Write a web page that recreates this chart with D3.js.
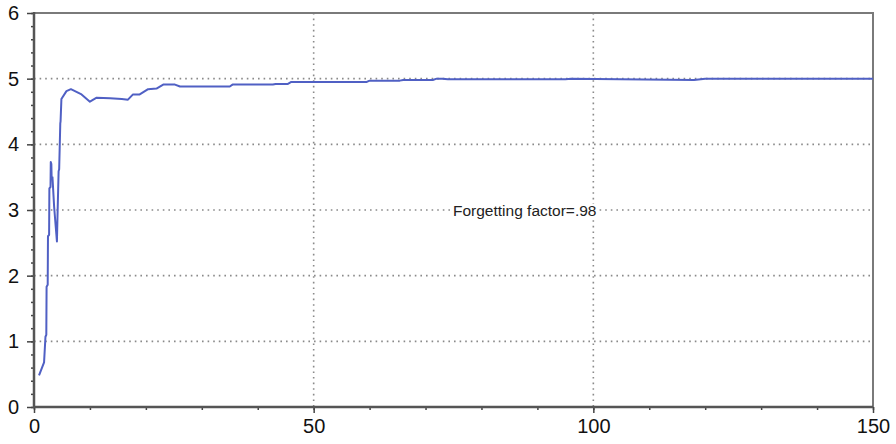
<!DOCTYPE html>
<html><head><meta charset="utf-8">
<script src="https://cdn.jsdelivr.net/npm/d3@7"></script>
<style>html,body{margin:0;padding:0;background:#fff;}</style>
</head><body>
<svg id="c" width="896" height="444"></svg>
<script>
const iterations = [0.9,1.8,2.05,2.2,2.25,2.45,2.5,2.7,2.75,2.95,3.0,3.1,3.15,3.3,3.6,3.9,4.1,4.2,4.4,4.5,4.7,4.75,4.9,5.8,6.6,8.5,10,11.2,13.6,15.7,16.8,17.7,18.9,20.4,21.9,23.1,25.2,26.1,35,35.5,42.7,43.2,45.4,46,59.5,60,65.4,66,71.3,72,73,74,95,96,118,120,150];
const estimates  = [0.48,0.68,1.07,1.1,1.83,1.86,2.6,2.62,3.33,3.35,3.73,3.7,3.5,3.5,3.05,2.73,2.52,2.9,3.59,3.62,4.32,4.35,4.69,4.81,4.84,4.76,4.65,4.71,4.70,4.69,4.68,4.76,4.76,4.84,4.85,4.91,4.91,4.88,4.88,4.91,4.91,4.92,4.92,4.95,4.95,4.97,4.97,4.98,4.98,5.0,5.0,4.99,4.99,5.0,4.98,5.0,5.0];
const xTicks = [0,50,100,150];
const yTicks = [0,1,2,3,4,5,6];
const annotation = "Forgetting factor=.98";

const svg = d3.select("#c");
const L=34, R=873, T=13, B=407;
const x = d3.scaleLinear().domain([0,150]).range([L,R]);
const y = d3.scaleLinear().domain([0,6]).range([B,T]);

// grid
const grid = svg.append("g").attr("stroke","#8a8a8a").attr("stroke-width",1.6).attr("stroke-dasharray","1.6,4");
grid.selectAll("line.h").data(yTicks.filter(d=>d>0&&d<6)).join("line")
  .attr("x1",L).attr("x2",R).attr("y1",d=>y(d)).attr("y2",d=>y(d));
grid.selectAll("line.v").data(xTicks.filter(d=>d>0&&d<150)).join("line")
  .attr("y1",T).attr("y2",B).attr("x1",d=>x(d)).attr("x2",d=>x(d));

// annotation with white background
const ag = svg.append("g");
const txt = ag.append("text").attr("x",453).attr("y",216)
  .attr("font-family","Liberation Sans, Arial, sans-serif").attr("font-size",15.5).attr("fill","#222").text(annotation);
const bb = txt.node().getBBox();
ag.insert("rect","text").attr("x",bb.x-1).attr("y",bb.y+2).attr("width",bb.width+2).attr("height",bb.height-4).attr("fill","#fff");

// frame top/right
svg.append("path").attr("d",`M${L},${T}H${R}V${B}`).attr("fill","none").attr("stroke","#7a7a7a").attr("stroke-width",2);

// line
svg.append("path").datum(iterations.map((t,i)=>[t,estimates[i]]))
  .attr("fill","none").attr("stroke","#5060c4").attr("stroke-width",2).attr("stroke-linejoin","round")
  .attr("d",d3.line().x(d=>x(d[0])).y(d=>y(d[1])));

// axes
const yAxis = svg.append("g").attr("transform",`translate(${L},0)`)
  .call(d3.axisLeft(y).tickValues(d3.range(0,30.5,1).map(i=>i*0.2)).tickSize(3).tickFormat(""));
yAxis.select(".domain").remove();
yAxis.selectAll("line").attr("stroke","#444").attr("stroke-width",1.5);
const yMajor = svg.append("g").attr("transform",`translate(${L},0)`)
  .call(d3.axisLeft(y).tickValues(yTicks).tickSize(7).tickPadding(8).tickFormat(d3.format("d")));
yMajor.select(".domain").remove();
yMajor.selectAll("line").attr("stroke","#444").attr("stroke-width",1.5);
yMajor.selectAll("text").attr("font-family","Liberation Sans, Arial, sans-serif").attr("font-size",20).attr("fill","#111");

const xMinor = svg.append("g").attr("transform",`translate(0,${B})`)
  .call(d3.axisBottom(x).tickValues(d3.range(0,151,10)).tickSize(3).tickFormat(""));
xMinor.select(".domain").remove();
xMinor.selectAll("line").attr("stroke","#444").attr("stroke-width",1.5);
const xMajor = svg.append("g").attr("transform",`translate(0,${B})`)
  .call(d3.axisBottom(x).tickValues(xTicks).tickSize(6).tickPadding(6).tickFormat(d3.format("d")));
xMajor.select(".domain").remove();
xMajor.selectAll("line").attr("stroke","#444").attr("stroke-width",1.5);
xMajor.selectAll("text").attr("font-family","Liberation Sans, Arial, sans-serif").attr("font-size",20).attr("fill","#111");

// axis lines
svg.append("line").attr("x1",L).attr("x2",L).attr("y1",T-1).attr("y2",B+1).attr("stroke","#555").attr("stroke-width",2.5);
svg.append("line").attr("x1",L-1).attr("x2",R).attr("y1",B).attr("y2",B).attr("stroke","#555").attr("stroke-width",2.5);
</script>
</body></html>
